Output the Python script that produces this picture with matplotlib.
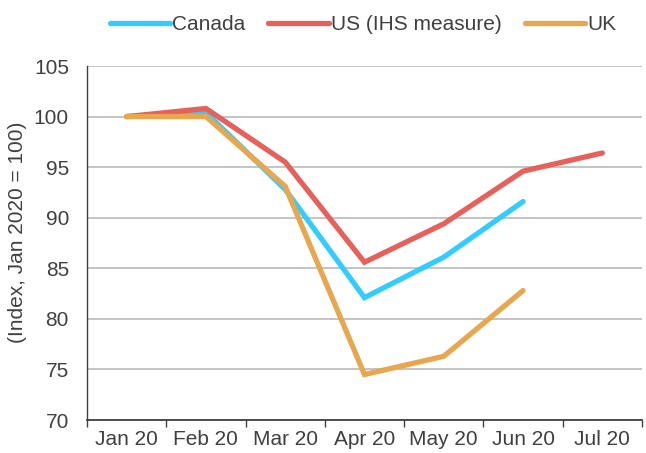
import matplotlib.pyplot as plt

plt.rcParams['font.family'] = ['Liberation Sans', 'DejaVu Sans']

months = ['Jan 20', 'Feb 20', 'Mar 20', 'Apr 20', 'May 20', 'Jun 20', 'Jul 20']
canada = [100, 100.4, 92.8, 82.1, 86.1, 91.6]
us = [100, 100.8, 95.5, 85.6, 89.4, 94.6, 96.4]
uk = [100, 100, 93.1, 74.5, 76.3, 82.8]

series = [
    ('Canada', canada, '#33CCFF'),
    ('US (IHS measure)', us, '#E8605A'),
    ('UK', uk, '#E8A64E'),
]

fig = plt.figure(figsize=(6.46, 4.53), dpi=100)
ax = fig.add_axes([0.1347, 0.0728, 0.859, 0.7815])

for name, vals, col in series:
    ax.plot(range(len(vals)), vals, color=col, lw=3.8, label=name,
            solid_capstyle='round', solid_joinstyle='miter')

ax.set_xlim(-0.5, len(months) - 0.5)
ax.set_ylim(70, 105)
ax.set_yticks(range(70, 106, 5))
ax.set_xticks(range(len(months)))
ax.set_xticklabels(months)
# tick marks sit between the categories
ax.set_xticks([i - 0.5 for i in range(len(months) + 1)], minor=True)
ax.tick_params(axis='x', which='major', length=0, pad=7, labelsize=15, colors='#404040')
ax.tick_params(axis='x', which='minor', length=5, width=1, color='#404040')
ax.tick_params(axis='y', length=0, pad=13, labelsize=15, colors='#404040')

ax.grid(axis='y', color='#BFBFBF', lw=1.3)
ax.set_axisbelow(True)
for s in ['top', 'right']:
    ax.spines[s].set_visible(False)
ax.spines['left'].set_color('#404040')
ax.spines['bottom'].set_color('#404040')
ax.spines['left'].set_linewidth(1)
ax.spines['bottom'].set_linewidth(1.3)

ax.set_ylabel('(Index, Jan 2020 = 100)', fontsize=15, color='#404040')
ax.yaxis.set_label_coords(-0.108, 0.53)

fig.legend(loc='center', bbox_to_anchor=(0.562, 0.945), ncol=3, frameon=False,
           fontsize=15, handlelength=2.9, handletextpad=0.1, columnspacing=1.1,
           labelcolor='#404040')

fig.savefig('out.png', dpi=100)
